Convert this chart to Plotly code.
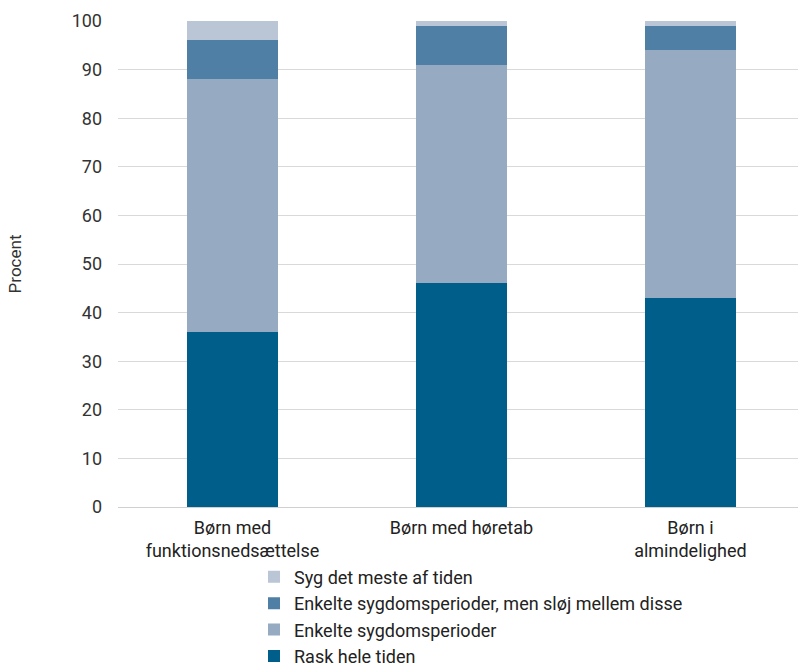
import plotly.graph_objects as go

categories = ["Børn med<br>funktionsnedsættelse", "Børn med høretab", "Børn i<br>almindelighed"]
rask = [36, 46, 43]
enkelte = [52, 45, 51]
enkelte_sloej = [8, 8, 5]
syg = [4, 1, 1]

series = [
    ("Rask hele tiden", rask, "#005E8A"),
    ("Enkelte sygdomsperioder", enkelte, "#96AAC1"),
    ("Enkelte sygdomsperioder, men sløj mellem disse", enkelte_sloej, "#4F7FA4"),
    ("Syg det meste af tiden", syg, "#BAC5D6"),
]

fig = go.Figure()
for name, vals, color in series:
    fig.add_trace(go.Bar(x=categories, y=vals, name=name, marker_color=color,
                         marker_line_width=0, width=0.4))

font = "Roboto, Lato, sans-serif"
fig.update_layout(
    barmode="stack",
    width=798, height=665,
    margin=dict(l=118, r=0, t=21, b=158, autoexpand=False),
    plot_bgcolor="white", paper_bgcolor="white",
    font=dict(family=font, size=18, color="#333333"),
    legend=dict(orientation="v", x=0.2, xanchor="left",
                yref="container", y=0.16, yanchor="top",
                font=dict(size=18, color="#222222"), traceorder="reversed",
                tracegroupgap=0, itemwidth=30),
    xaxis=dict(range=[-0.5, 2.47], showline=True, linecolor="#d0d0d0", linewidth=1,
               tickfont=dict(size=18, color="#222222"), ticks="",
               ticklabelstandoff=4, automargin=False),
    yaxis=dict(range=[0, 100], dtick=10, showgrid=True, gridcolor="#d9d9d9",
               zeroline=False, ticks="", ticklabelstandoff=15, automargin=False,
               tickfont=dict(size=18, color="#333333"),
               title=dict(text="Procent", font=dict(size=17, color="#333333"), standoff=45)),
)
fig.write_html("out.html")
